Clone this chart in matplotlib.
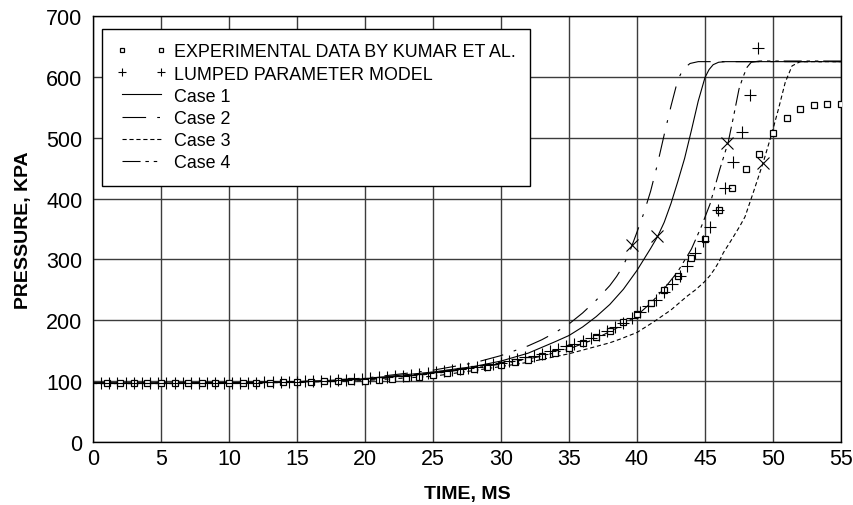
import matplotlib
matplotlib.use("Agg")
import matplotlib.pyplot as plt

plt.rcParams["font.family"] = ["Liberation Sans", "DejaVu Sans"]
plt.rcParams["lines.scale_dashes"] = False

# experimental data (Kumar et al.), one point per ms
exp_t = list(range(1, 56))
exp_p = [97, 97, 97, 97, 97, 97, 97, 97, 97, 97, 97, 97, 97.5, 98, 98,
         99, 99.5, 100, 100.5, 101, 102.4, 103.5, 105, 107, 110.5, 113, 116,
         120, 123, 127, 131, 135, 142, 147, 154, 162, 172, 183, 197, 210,
         228, 249, 272, 302, 334, 382, 417, 449, 474, 508, 532, 548, 554,
         556, 556]

# lumped parameter model
lpm_t = [0.6, 1.2, 1.8, 2.4, 3.0, 3.6, 4.2, 4.8, 5.4, 6.0, 6.6, 7.2, 7.8,
         8.4, 9.0, 9.6, 10.2, 10.8, 11.4, 12.0, 12.6, 13.2, 13.8, 14.4, 15.0,
         15.6, 16.2, 16.8, 17.4, 18.0, 18.6, 19.2, 19.8, 20.4, 21.0, 21.6,
         22.2, 22.8, 23.4, 24.0, 24.6, 25.2, 25.8, 26.4, 27.0, 27.6, 28.2,
         28.8, 29.4, 30.0, 30.6, 31.2, 31.8, 32.4, 33.0, 33.6, 34.2, 34.8,
         35.4, 36.0, 36.6, 37.2, 37.8, 38.4, 39.0, 39.6, 40.2, 40.8, 41.4,
         42.0, 42.6, 43.15, 43.7, 44.3, 44.85, 45.4, 45.93, 46.47, 47.08,
         47.7, 48.3, 48.87]
lpm_p = [97, 97, 97, 97, 97, 97, 97, 97, 97, 97, 97, 97, 97, 97, 97, 97, 97,
         97, 97.5, 97.5, 98, 98, 98.5, 99, 99, 99.5, 100, 100.5, 101, 101.5,
         102, 103, 104, 105, 106, 107, 108, 109, 110, 111.5, 113, 114.5, 116,
         118, 120, 122, 124, 126, 128, 130, 133, 136, 139, 142, 145, 149, 153,
         157, 161, 166, 171, 176, 182, 189, 196, 204, 213, 223, 234, 246, 260,
         273, 289, 310, 331, 353, 382, 417, 460, 509, 570, 647]

case1_t = [0, 5, 10, 15, 20, 25, 28, 30, 32, 34, 35, 36, 37, 38, 39, 40, 41,
           41.5, 42, 42.5, 43, 43.5, 44, 44.5, 45, 45.3, 45.6, 46, 46.5, 55]
case1_p = [97, 97, 97.5, 99, 104, 115, 124, 133, 146, 165, 175, 189, 206, 226,
           251, 282, 318, 337, 361, 392, 428, 466, 512, 560, 599, 612, 620,
           624, 625, 625]

case2_t = [0, 5, 10, 15, 20, 25, 28, 30, 31, 32, 33, 34, 35, 36, 37, 38, 38.5,
           39, 39.5, 40, 40.5, 41, 41.5, 42, 42.5, 43, 43.4, 43.9, 44.5, 55]
case2_p = [97, 97, 97.5, 99, 105, 118, 130, 142, 150, 158, 168, 180, 194, 212,
           233, 257, 272, 290, 315, 345, 376, 412, 456, 505, 552, 595, 613,
           622, 625, 625]

case3_t = [0, 5, 10, 15, 20, 25, 28.5, 30, 32, 35, 38, 38.75, 40, 41.2, 42.5,
           43.65, 44.3, 44.95, 45.35, 45.7, 46.05, 46.35, 47, 47.57, 47.94,
           48.55, 49.29, 49.9, 50.4, 50.9, 51.4, 52.0, 55]
case3_p = [96, 96, 96.5, 98, 101, 108, 119, 124, 131, 145, 163, 169, 180, 197,
           217, 239, 250, 263, 273, 284, 297, 311, 334, 355, 370, 410, 460,
           506, 547, 591, 618, 625, 625]

case4_t = [0, 5, 10, 15, 20, 25, 30, 33, 35, 37, 39, 40, 41, 42, 43, 44,
           44.75, 45.37, 46.1, 46.7, 47.1, 47.5, 47.8, 48.1, 48.4, 49, 55]
case4_p = [97, 97, 97.5, 98.5, 102, 112, 128, 141, 153, 170, 193, 208, 228,
           252, 280, 317, 355, 391, 449, 492, 535, 580, 600, 616, 624, 626, 626]

# x marks on the curves
mark_t = [39.6, 41.5, 46.6, 49.3]
mark_p = [324, 338, 492, 458]

x_ticks = list(range(0, 56, 5))
y_ticks = list(range(0, 701, 100))


def main() -> None:
    fig = plt.figure(figsize=(8.54, 5.06), dpi=100)
    ax = fig.add_axes([93 / 854, 1 - 443 / 506, 748 / 854, 426 / 506])

    ax.plot(exp_t, exp_p, ls="none", marker="s", ms=4.2, mfc="white",
            mec="black", mew=0.9, label="EXPERIMENTAL DATA BY KUMAR ET AL.",
            zorder=4)
    ax.plot(lpm_t, lpm_p, ls="none", marker="+", ms=9, mec="black", mew=0.8,
            label="LUMPED PARAMETER MODEL", zorder=4)
    ax.plot(case1_t, case1_p, color="black", lw=0.8, label="Case 1", zorder=3)
    ax.plot(case2_t, case2_p, color="black", lw=0.8,
            dashes=(17, 8, 2, 8), label="Case 2", zorder=3)
    ax.plot(case3_t, case3_p, color="black", lw=0.8, dashes=(3, 2),
            label="Case 3", zorder=3)
    ax.plot(case4_t, case4_p, color="black", lw=0.8,
            dashes=(13, 3.5, 2.5, 3.5, 2.5, 3.5), label="Case 4", zorder=3)
    ax.plot(mark_t, mark_p, ls="none", marker="x", ms=9, mec="black",
            mew=0.8, zorder=4)

    ax.set_xlim(0, 55)
    ax.set_ylim(0, 700)
    ax.set_xticks(x_ticks)
    ax.set_yticks(y_ticks)
    ax.tick_params(axis="both", length=0, labelsize=15.5)
    ax.tick_params(axis="x", pad=4)
    ax.tick_params(axis="y", pad=7.5)
    ax.grid(True, color="#3c3c3c", lw=1.0)
    ax.set_axisbelow(True)
    for sp in ax.spines.values():
        sp.set_color("black")
        sp.set_linewidth(1.0)

    ax.set_xlabel("TIME, MS", fontsize=14, fontweight="bold", labelpad=12)
    ax.set_ylabel("PRESSURE, KPA", fontsize=14, fontweight="bold", labelpad=10)

    leg = ax.legend(loc="upper left", bbox_to_anchor=(9 / 748, 413 / 426),
                    borderaxespad=0, fontsize=12.9, numpoints=2,
                    markerscale=0.7, handlelength=2.8, handletextpad=0.4,
                    labelspacing=0.29, borderpad=0.8, fancybox=False,
                    framealpha=1, edgecolor="black")
    leg.get_frame().set_linewidth(1.0)

    fig.savefig("out.png", dpi=100, facecolor="white")
    plt.close(fig)


if __name__ == "__main__":
    main()
